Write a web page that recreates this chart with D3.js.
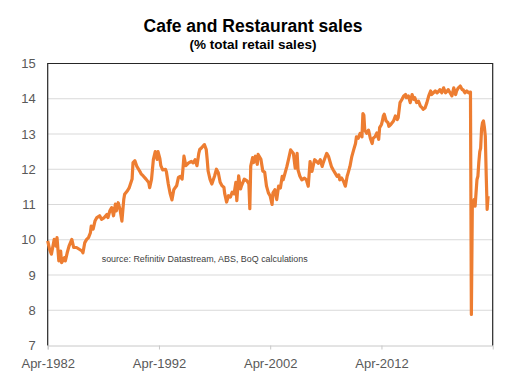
<!DOCTYPE html>
<html>
<head>
<meta charset="utf-8">
<script src="https://cdn.jsdelivr.net/npm/d3@7"></script>
<style>
  html, body { margin: 0; padding: 0; background: #fff; }
  svg { display: block; }
  text { font-family: "Liberation Sans", Arial, sans-serif; }
</style>
</head>
<body>
<svg id="chart" width="509" height="382"></svg>
<script>
// ---- Data: cafe & restaurant sales, % of total retail sales ----
const months = [
 "1982-04","1982-06","1982-08","1982-11","1983-01","1983-02","1983-04","1983-06","1983-07","1983-10","1983-11",
 "1984-01","1984-03","1984-06","1984-08","1984-11","1985-02","1985-05","1985-06","1985-08","1985-10","1985-12",
 "1986-02","1986-03","1986-05","1986-07","1986-09","1986-12","1987-02","1987-05","1987-08","1987-09","1987-11",
 "1988-01","1988-03","1988-05","1988-06","1988-08","1988-10","1988-12","1989-02","1989-03","1989-06","1989-08",
 "1989-11","1989-12","1990-02","1990-04","1990-06","1990-08","1990-09","1990-11","1991-02","1991-05","1991-06",
 "1991-08","1991-10","1991-12","1992-02","1992-03","1992-05","1992-06","1992-08","1992-11","1992-12","1993-02",
 "1993-04","1993-06","1993-08","1993-09","1993-11","1994-01","1994-03","1994-05","1994-07","1994-09","1994-12",
 "1995-03","1995-05","1995-07","1995-09","1995-11","1995-12","1996-02","1996-05","1996-07","1996-08","1996-09",
 "1996-11","1997-01","1997-04","1997-06","1997-08","1997-10","1997-12","1998-02","1998-03","1998-05","1998-07",
 "1998-09","1998-11","1999-01","1999-03","1999-04","1999-06","1999-08","1999-09","1999-12","2000-03","2000-05",
 "2000-06","2000-07","2000-09","2000-10","2000-12","2001-02","2001-03","2001-06","2001-08","2001-10","2001-12",
 "2002-02","2002-04","2002-06","2002-07","2002-09","2002-11","2003-01","2003-03","2003-05","2003-06","2003-08",
 "2003-10","2003-12","2004-02","2004-05","2004-07","2004-09","2004-10","2004-12","2005-02","2005-05","2005-07",
 "2005-09","2005-11","2006-01","2006-03","2006-04","2006-06","2006-08","2006-10","2006-12","2007-01","2007-03",
 "2007-05","2007-07","2007-09","2007-10","2007-12","2008-02","2008-04","2008-06","2008-07","2008-09","2008-11",
 "2009-01","2009-03","2009-04","2009-06","2009-08","2009-10","2009-12","2010-01","2010-03","2010-05","2010-07",
 "2010-08","2010-09","2010-10","2010-12","2011-02","2011-04","2011-06","2011-07","2011-09","2011-11","2012-01",
 "2012-02","2012-04","2012-05","2012-06","2012-07","2012-09","2012-11","2012-12","2013-02","2013-05","2013-07",
 "2013-09","2013-10","2013-12","2014-02","2014-04","2014-06","2014-07","2014-09","2014-11","2015-01","2015-03",
 "2015-04","2015-06","2015-08","2015-10","2015-12","2016-01","2016-03","2016-05","2016-07","2016-09","2016-10",
 "2016-12","2017-02","2017-04","2017-06","2017-07","2017-09","2017-11","2018-01","2018-03","2018-04","2018-06",
 "2018-08","2018-10","2018-12","2019-01","2019-03","2019-05","2019-07","2019-08","2019-10","2019-12","2020-02",
 "2020-04","2020-05","2020-06","2020-07","2020-08","2020-09","2020-10","2020-11","2020-12","2021-01","2021-02",
 "2021-03","2021-04","2021-05","2021-06","2021-07","2021-08","2021-09","2021-10","2021-11"
];
const share = [
 9.97,9.73,9.59,10.01,9.82,10.06,9.40,9.68,9.35,9.49,9.40,
 9.63,9.82,10.01,9.78,9.78,9.73,9.68,9.63,9.92,10.01,10.06,
 10.20,10.39,10.30,10.53,10.63,10.68,10.58,10.63,10.72,10.63,10.82,
 10.91,10.68,11.01,10.82,11.05,10.86,10.53,11.15,11.29,11.39,11.48,
 11.72,12.19,12.24,12.09,12.00,11.91,11.86,11.81,11.72,11.62,11.48,
 11.72,12.28,12.50,12.28,12.50,12.30,12.10,11.98,12.00,11.93,11.58,
 11.32,11.13,11.42,11.46,11.53,11.77,11.80,11.72,12.37,12.10,12.18,
 12.22,12.18,12.27,12.10,12.46,12.56,12.61,12.70,12.56,12.28,11.95,
 11.72,11.58,11.81,12.00,11.90,11.63,11.53,11.49,11.30,11.07,11.25,
 11.21,11.35,11.30,11.63,11.11,11.81,11.44,11.53,11.72,11.67,11.58,
 10.88,12.09,12.33,12.19,12.37,12.14,12.42,12.28,11.95,11.92,11.52,
 11.33,11.24,11.00,11.33,11.42,11.14,11.52,11.47,11.80,11.70,11.89,
 12.08,12.31,12.55,12.45,12.03,12.45,11.98,11.80,11.70,11.75,11.70,
 11.52,12.22,11.94,12.17,12.27,12.22,12.17,12.27,12.08,12.17,12.31,
 12.45,12.36,12.17,12.08,11.98,11.89,11.80,11.84,11.70,11.75,11.66,
 11.52,11.80,11.89,12.08,12.36,12.55,12.73,12.92,12.88,13.02,12.92,
 13.58,13.53,13.11,13.02,13.11,12.88,12.73,12.88,12.92,13.03,12.85,
 13.18,13.27,13.37,13.51,13.56,13.37,13.32,13.22,13.27,13.37,13.51,
 13.41,13.46,13.89,13.98,14.08,14.12,14.03,14.08,13.89,14.12,13.98,
 14.03,13.89,13.93,13.79,13.74,13.70,13.74,13.89,14.08,14.22,14.12,
 14.17,14.22,14.17,14.22,14.26,14.17,14.31,14.17,14.22,14.26,14.17,
 14.08,14.31,14.12,14.22,14.31,14.36,14.26,14.26,14.17,14.22,14.17,
 14.19,7.88,10.95,11.00,11.14,10.95,11.33,11.71,11.80,12.20,12.50,
 12.60,13.15,13.32,13.37,13.20,12.94,11.81,10.86,11.24
];
const yTicks = [7, 8, 9, 10, 11, 12, 13, 14, 15];
const xTickDates = ["1982-04", "1992-04", "2002-04", "2012-04"];
const xDomain = ["1982-04", "2022-04"];
const titleText = "Cafe and Restaurant sales";
const subtitleText = "(%  total retail sales)";
const sourceText = "source:  Refinitiv Datastream, ABS, BoQ calculations";

// ---- Layout ----
const W = 509, H = 382;
const plot = { left: 47.7, right: 492.7, top: 63.5, bottom: 345.5 };
const parse = d3.timeParse("%Y-%m");
const data = months.map((m, i) => ({ date: parse(m), value: share[i] }));

const svg = d3.select("#chart");
svg.append("rect").attr("width", W).attr("height", H).attr("fill", "#fff");

const x = d3.scaleTime().domain(xDomain.map(parse)).range([plot.left, plot.right]);
const y = d3.scaleLinear().domain([7, 15]).range([plot.bottom, plot.top]);

// gridlines
svg.append("g").selectAll("line")
  .data(yTicks.filter(t => t > 7 && t < 15))
  .join("line")
  .attr("x1", plot.left).attr("x2", plot.right)
  .attr("y1", d => y(d)).attr("y2", d => y(d))
  .attr("stroke", "#d9d9d9").attr("stroke-width", 1);

// x axis (bottom, light gray)
const xAxis = d3.axisBottom(x)
  .tickValues(xTickDates.map(parse))
  .tickFormat(d3.timeFormat("%b-%Y"))
  .tickSize(4).tickPadding(9);
const gx = svg.append("g").attr("transform", `translate(0,${plot.bottom})`).call(xAxis);
gx.select(".domain").attr("stroke", "#c8c8c8");
gx.selectAll(".tick line").attr("stroke", "#c8c8c8");
gx.selectAll(".tick text").attr("fill", "#595959").attr("font-size", 13)
  .attr("font-family", "'Liberation Sans', Arial, sans-serif");

// y axis labels
const yAxis = d3.axisLeft(y).tickValues(yTicks).tickFormat(d3.format("d")).tickSize(0).tickPadding(12);
const gy = svg.append("g").attr("transform", `translate(${plot.left},0)`).call(yAxis);
gy.select(".domain").remove();
gy.selectAll(".tick text").attr("fill", "#595959").attr("font-size", 13)
  .attr("font-family", "'Liberation Sans', Arial, sans-serif");

// frame: left, top, right
svg.append("path")
  .attr("d", `M${plot.left},${plot.bottom}V${plot.top}H${plot.right}V${plot.bottom}`)
  .attr("fill", "none").attr("stroke", "#262626").attr("stroke-width", 1.2);

// series line
const line = d3.line().x(d => x(d.date)).y(d => y(d.value));
svg.append("path").datum(data)
  .attr("d", line)
  .attr("fill", "none")
  .attr("stroke", "#ED7D31")
  .attr("stroke-width", 3.2)
  .attr("stroke-linejoin", "round");

// titles
svg.append("text").attr("x", 253).attr("y", 31.5).attr("text-anchor", "middle")
  .attr("font-size", 17.5).attr("font-weight", "bold").attr("fill", "#000").text(titleText);
svg.append("text").attr("x", 253).attr("y", 49).attr("text-anchor", "middle")
  .attr("font-size", 13.5).attr("font-weight", "bold").attr("fill", "#000").text(subtitleText);

// source note
svg.append("text").attr("x", 101.7).attr("y", 262)
  .attr("font-size", 8.5).attr("fill", "#404040")
  .attr("textLength", 206).attr("lengthAdjust", "spacingAndGlyphs")
  .text(sourceText);
</script>
</body>
</html>
